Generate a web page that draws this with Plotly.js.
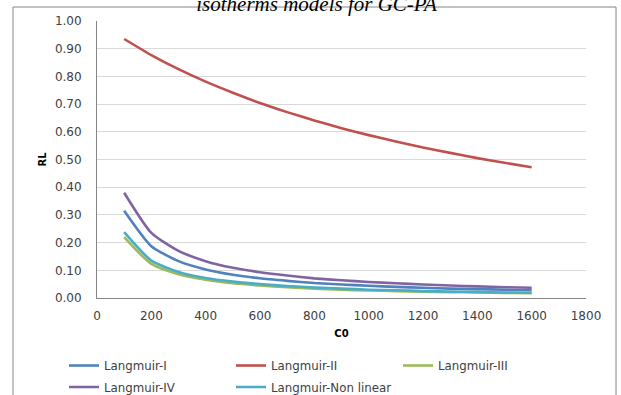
<!DOCTYPE html>
<html>
<head>
<meta charset="utf-8">
<script src="https://cdn.plot.ly/plotly-3.0.1.min.js"></script>
<style>
  html, body { margin: 0; padding: 0; background: #fff; }
  #chart { width: 621px; height: 395px; }
</style>
</head>
<body>
<div id="chart"></div>
<script>
// Initial concentration C0 (mg/L)
const c0 = [100, 200, 300, 400, 500, 600, 700, 800, 900, 1000, 1100, 1200, 1300, 1400, 1500, 1600];

// Separation factor RL for each isotherm fit
const langmuirI   = [0.315, 0.187, 0.133, 0.103, 0.084, 0.071, 0.062, 0.054, 0.049, 0.044, 0.040, 0.037, 0.034, 0.032, 0.030, 0.028];
const langmuirII  = [0.935, 0.877, 0.826, 0.781, 0.741, 0.704, 0.671, 0.641, 0.613, 0.588, 0.565, 0.543, 0.524, 0.505, 0.488, 0.472];
const langmuirIII = [0.220, 0.123, 0.086, 0.066, 0.053, 0.045, 0.039, 0.034, 0.030, 0.027, 0.025, 0.023, 0.021, 0.020, 0.018, 0.017];
const langmuirIV  = [0.380, 0.235, 0.170, 0.133, 0.109, 0.093, 0.081, 0.071, 0.064, 0.058, 0.053, 0.049, 0.045, 0.042, 0.039, 0.037];
const langmuirNL  = [0.238, 0.135, 0.094, 0.072, 0.059, 0.050, 0.043, 0.038, 0.034, 0.030, 0.028, 0.025, 0.023, 0.022, 0.020, 0.019];

const seriesNames = ["Langmuir-I", "Langmuir-II", "Langmuir-III", "Langmuir-IV", "Langmuir-Non linear"];
const seriesData  = [langmuirI, langmuirII, langmuirIII, langmuirIV, langmuirNL];
const seriesColors = ["#4F81BD", "#C0504D", "#9BBB59", "#8064A2", "#4BACC6"];
// first three entries on the upper legend row, the rest on the lower one
const legendRow = ["legend", "legend", "legend", "legend2", "legend2"];

const traces = seriesNames.map((name, i) => ({
  type: "scatter",
  mode: "lines",
  name: name,
  legend: legendRow[i],
  x: c0,
  y: seriesData[i],
  line: { color: seriesColors[i], width: 2.6, shape: "spline", smoothing: 0.6 }
}));

// Plot area pixel bounds, used to place the frame and legend rows
const W = 621, H = 395;
const L = 97, R = 35, T = 21, B = 97;
const pw = W - L - R, ph = H - T - B;
const px = v => (v - L) / pw;
const py = v => (H - B - v) / ph;

const legendFont = { family: "DejaVu Sans, sans-serif", size: 11.8, color: "#404040" };
const legendRowStyle = top => ({
  orientation: "h",
  xref: "paper", yref: "paper",
  x: px(64), xanchor: "left",
  y: py(top), yanchor: "top",
  entrywidth: 122,
  entrywidthmode: "pixels",
  font: legendFont,
  bgcolor: "rgba(0,0,0,0)",
  traceorder: "normal"
});

const tickFont = { family: "DejaVu Sans, sans-serif", size: 12, color: "#404040" };

const layout = {
  width: W,
  height: H,
  margin: { l: L, r: R, t: T, b: B, pad: 0, autoexpand: false },
  paper_bgcolor: "#ffffff",
  plot_bgcolor: "#ffffff",
  font: { family: "DejaVu Sans, sans-serif", size: 11, color: "#404040" },
  title: {
    text: "<i>isotherms models for GC-PA</i>",
    font: { family: "Liberation Serif, serif", size: 21, color: "#000000" },
    xref: "container", yref: "container",
    x: 316.5 / W, xanchor: "center",
    y: 1 - 4 / H, yanchor: "middle"
  },
  xaxis: {
    range: [0, 1800],
    dtick: 200,
    tick0: 0,
    showgrid: false,
    zeroline: false,
    showline: true,
    linecolor: "#868686",
    linewidth: 1,
    ticks: "",
    ticklabelstandoff: 7,
    tickfont: tickFont,
    title: { text: "<b>C0</b>", font: { family: "DejaVu Sans, sans-serif", size: 10, color: "#000000" }, standoff: 7 }
  },
  yaxis: {
    range: [0, 1],
    dtick: 0.1,
    tickformat: ".2f",
    showgrid: true,
    gridcolor: "#d9d9d9",
    gridwidth: 1,
    zeroline: false,
    showline: true,
    linecolor: "#868686",
    linewidth: 1,
    ticks: "",
    ticklabelstandoff: 12,
    tickfont: tickFont,
    title: { text: "<b>RL</b>", font: { family: "DejaVu Sans, sans-serif", size: 10, color: "#000000" }, standoff: 6 }
  },
  legend: legendRowStyle(351),
  legend2: legendRowStyle(372.5),
  shapes: [{
    type: "rect",
    xref: "paper", yref: "paper",
    x0: px(13), x1: px(616),
    y0: py(420), y1: py(7),
    line: { color: "#868686", width: 1 },
    fillcolor: "rgba(0,0,0,0)",
    layer: "above"
  }],
  showlegend: true
};

Plotly.newPlot("chart", traces, layout, { displayModeBar: false, staticPlot: true });
</script>
</body>
</html>
